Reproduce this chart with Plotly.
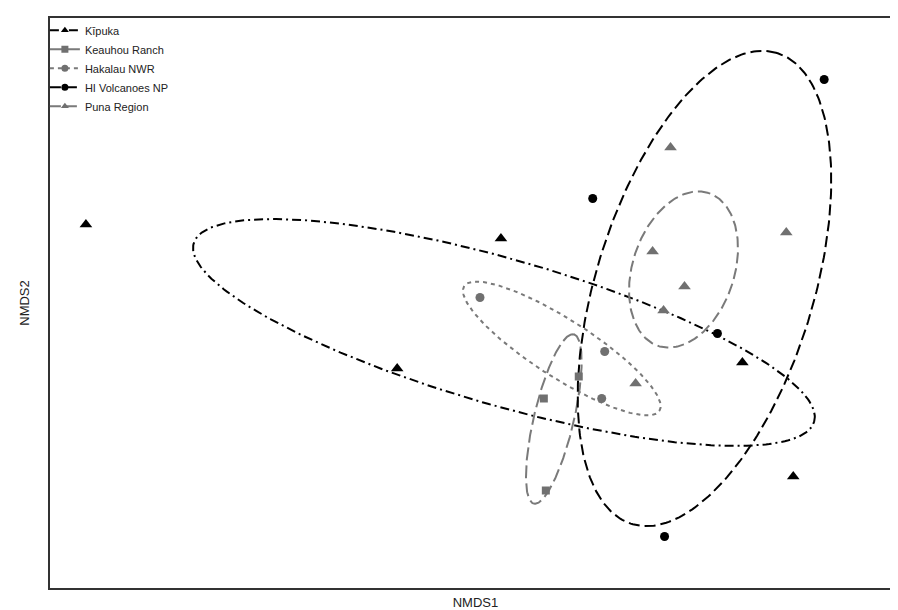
import numpy as np
import plotly.graph_objects as go

# ---- data (NMDS scores) ----
groups = ["Kīpuka", "Keauhou Ranch", "Hakalau NWR", "HI Volcanoes NP", "Puna Region"]

kipuka_x = [-0.784, 0.048, -0.160, 0.532, 0.634]
kipuka_y = [0.152, 0.124, -0.136, -0.124, -0.352]

keauhou_x = [0.134, 0.204, 0.138]
keauhou_y = [-0.196, -0.152, -0.380]

hakalau_x = [0.006, 0.256, 0.250]
hakalau_y = [0.006, -0.102, -0.196]

volcanoes_x = [0.696, 0.232, 0.482, 0.376]
volcanoes_y = [0.442, 0.204, -0.066, -0.472]

puna_x = [0.388, 0.620, 0.352, 0.416, 0.374, 0.318]
puna_y = [0.306, 0.136, 0.098, 0.028, -0.020, -0.166]

# ellipse parameters per group: centre, semi-axes, rotation (degrees)
ell_cx = [0.054, 0.154, 0.170, 0.456, 0.414]
ell_cy = [-0.064, -0.237, -0.096, 0.024, 0.062]
ell_a = [0.647, 0.174, 0.232, 0.493, 0.161]
ell_b = [0.146, 0.040, 0.058, 0.218, 0.102]
ell_ang = [-16.0, 76.7, -32.5, 72.8, 71.7]

# ---- styles ----
BLACK = "#000000"
GREY = "#707070"
GREYL = "#7a7a7a"
xs = [kipuka_x, keauhou_x, hakalau_x, volcanoes_x, puna_x]
ys = [kipuka_y, keauhou_y, hakalau_y, volcanoes_y, puna_y]
mcol = [BLACK, GREY, GREY, BLACK, GREY]
lcol = [BLACK, GREYL, GREYL, BLACK, GREYL]
symbols = ["triangle-up", "square", "circle", "circle", "triangle-up"]
msize = [11, 8, 9, 9, 11]
dashes = ["9px,4px,2px,4px", "13px,5px", "4px,4px", "11px,5px", "11px,5px"]

fig = go.Figure()
t = np.linspace(0, 2 * np.pi, 300)
for i, g in enumerate(groups):
    th = np.deg2rad(ell_ang[i])
    ex = ell_cx[i] + ell_a[i] * np.cos(t) * np.cos(th) - ell_b[i] * np.sin(t) * np.sin(th)
    ey = ell_cy[i] + ell_a[i] * np.cos(t) * np.sin(th) + ell_b[i] * np.sin(t) * np.cos(th)
    fig.add_trace(go.Scatter(x=ex, y=ey, mode="lines", showlegend=False, hoverinfo="skip",
                             line=dict(color=lcol[i], width=2, dash=dashes[i])))

for i, g in enumerate(groups):
    fig.add_trace(go.Scatter(x=xs[i], y=ys[i], mode="markers", name=g, showlegend=False,
                             marker=dict(symbol=symbols[i], size=msize[i], color=mcol[i])))
    # legend entry
    fig.add_trace(go.Scatter(x=[None], y=[None], mode="lines+markers", name=g,
                             line=dict(color=lcol[i], width=2, dash=dashes[i]),
                             marker=dict(symbol=symbols[i], size=7, color=mcol[i])))

fig.update_layout(
    width=898, height=610,
    margin=dict(l=42, r=3, t=10, b=30),
    paper_bgcolor="white", plot_bgcolor="white",
    font=dict(family="Liberation Sans, Arial, sans-serif", color="#222222"),
    showlegend=True,
    legend=dict(x=-0.006, y=1.004, xanchor="left", yanchor="top", bgcolor="rgba(0,0,0,0)",
                font=dict(size=11), itemwidth=30, tracegroupgap=0),
)
fig.update_xaxes(range=[-0.856, 0.85], showgrid=False, zeroline=False, showticklabels=False,
                 ticks="", showline=True, mirror=True, linecolor="#333333", linewidth=1.5,
                 title=dict(text="NMDS1", font=dict(size=13), standoff=9))
fig.update_yaxes(range=[-0.575, 0.565], showgrid=False, zeroline=False, showticklabels=False,
                 ticks="", showline=True, mirror=True, linecolor="#333333", linewidth=1.5,
                 title=dict(text="NMDS2", font=dict(size=13), standoff=16))

fig.write_html("out.html")
